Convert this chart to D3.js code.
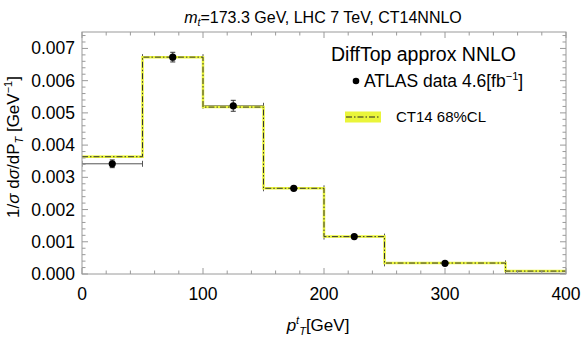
<!DOCTYPE html>
<html>
<head>
<meta charset="utf-8">
<script src="https://cdn.jsdelivr.net/npm/d3@7"></script>
<style>
  body { margin: 0; background: #fff; }
  text { font-family: "Liberation Sans", Arial, sans-serif; fill: #000; }
</style>
</head>
<body>
<svg id="chart"></svg>
<script>
// bins of the top pT distribution
const binEdges = [0, 50, 100, 150, 200, 250, 350, 800]
// CT14 NNLO central values and 68% CL band
const theory   = [0.00364, 0.00673, 0.00518, 0.00266, 0.00116, 0.00034, 0.00009]
const theoryLo = [0.00361, 0.00670, 0.00515, 0.00264, 0.00114, 0.00032, 0.00008]
const theoryHi = [0.00367, 0.00676, 0.00521, 0.00268, 0.00118, 0.00036, 0.00011]
// ATLAS 4.6 fb^-1 data
const dataX   = [25, 75, 125, 175, 225, 300, 575]
const dataY   = [0.00342, 0.00673, 0.00522, 0.00266, 0.00116, 0.00033, 0.00002]
const dataErr = [0.00012, 0.00015, 0.00017, 0.00006, 0.00004, 0.00002, 0.00001]
const xTicks = [0, 100, 200, 300, 400]
const yTicks = [0, 0.001, 0.002, 0.003, 0.004, 0.005, 0.006, 0.007]

const width = 581, height = 338
const margin = { top: 32, right: 15, bottom: 64, left: 82 }
const yellow = '#eaf53a'

const svg = d3.select('#chart').attr('width', width).attr('height', height)

const x = d3.scaleLinear().domain([0, 400]).range([margin.left, width - margin.right])
const y = d3.scaleLinear().domain([0, 0.00751]).range([height - margin.bottom, margin.top])

svg.append('clipPath').attr('id', 'clip')
  .append('rect')
  .attr('x', margin.left).attr('y', margin.top)
  .attr('width', x(400) - x(0)).attr('height', y(0) - y(0.00751))

const plot = svg.append('g').attr('clip-path', 'url(#clip)')

// step path helper
function steps(vals) {
  const pts = []
  vals.forEach((v, i) => {
    pts.push([x(binEdges[i]), y(v)])
    pts.push([x(binEdges[i + 1]), y(v)])
  })
  return d3.line()(pts)
}

// data horizontal bars (bin widths) drawn under theory
dataX.forEach((d, i) => {
  plot.append('line')
    .attr('x1', x(binEdges[i])).attr('x2', x(binEdges[i + 1]))
    .attr('y1', y(dataY[i])).attr('y2', y(dataY[i]))
    .attr('stroke', '#555').attr('stroke-width', 1)
  ;[binEdges[i], binEdges[i + 1]].forEach(e => {
    plot.append('line')
      .attr('x1', x(e)).attr('x2', x(e))
      .attr('y1', y(dataY[i]) - 3).attr('y2', y(dataY[i]) + 3)
      .attr('stroke', '#555').attr('stroke-width', 1)
  })
})

// theory band
const bandPts = []
theory.forEach((v, i) => {
  bandPts.push({ x: binEdges[i], lo: theoryLo[i], hi: theoryHi[i] })
  bandPts.push({ x: binEdges[i + 1], lo: theoryLo[i], hi: theoryHi[i] })
})
plot.append('path')
  .attr('d', steps(theory))
  .attr('fill', 'none')
  .attr('stroke', yellow)
  .attr('stroke-width', 2.5)
plot.append('path')
  .datum(bandPts)
  .attr('d', d3.area().x(d => x(d.x)).y0(d => y(d.lo)).y1(d => y(d.hi)))
  .attr('fill', yellow)
plot.append('path')
  .attr('d', steps(theory))
  .attr('fill', 'none')
  .attr('stroke', '#333')
  .attr('stroke-width', 1)
  .attr('stroke-dasharray', '6,2,1.5,2')

// data points with vertical errors
dataX.forEach((d, i) => {
  plot.append('line')
    .attr('x1', x(d)).attr('x2', x(d))
    .attr('y1', y(dataY[i] - dataErr[i])).attr('y2', y(dataY[i] + dataErr[i]))
    .attr('stroke', '#333').attr('stroke-width', 1)
  ;[-1, 1].forEach(s => {
    plot.append('line')
      .attr('x1', x(d) - 2.5).attr('x2', x(d) + 2.5)
      .attr('y1', y(dataY[i] + s * dataErr[i])).attr('y2', y(dataY[i] + s * dataErr[i]))
      .attr('stroke', '#333').attr('stroke-width', 1)
  })
  plot.append('circle')
    .attr('cx', x(d)).attr('cy', y(dataY[i])).attr('r', 3.6)
    .attr('fill', '#000')
})

// frame with ticks on all sides
const frame = '#9a9a9a'
const xMinor = d3.range(0, 401, 20)
const yMinor = d3.range(0, 0.00751, 0.0002)
const fg = svg.append('g')
fg.append('rect')
  .attr('x', x(0)).attr('y', y(0.00751))
  .attr('width', x(400) - x(0)).attr('height', y(0) - y(0.00751))
  .attr('fill', 'none').attr('stroke', frame).attr('stroke-width', 1)

xMinor.forEach(v => {
  const major = xTicks.includes(v)
  const len = major ? 6 : 3.5
  fg.append('line').attr('x1', x(v)).attr('x2', x(v))
    .attr('y1', y(0)).attr('y2', y(0) - len).attr('stroke', frame)
  fg.append('line').attr('x1', x(v)).attr('x2', x(v))
    .attr('y1', y(0.00751)).attr('y2', y(0.00751) + len).attr('stroke', frame)
})
yMinor.forEach((v, i) => {
  const major = i % 5 === 0
  const len = major ? 6 : 3.5
  fg.append('line').attr('y1', y(v)).attr('y2', y(v))
    .attr('x1', x(0)).attr('x2', x(0) + len).attr('stroke', frame)
  fg.append('line').attr('y1', y(v)).attr('y2', y(v))
    .attr('x1', x(400)).attr('x2', x(400) - len).attr('stroke', frame)
})

// tick labels
fg.selectAll('.xl').data(xTicks).join('text')
  .attr('x', d => x(d)).attr('y', y(0) + 26)
  .attr('text-anchor', 'middle').attr('font-size', 17.5)
  .text(d => d)
fg.selectAll('.yl').data(yTicks).join('text')
  .attr('x', x(0) - 7).attr('y', d => y(d) + 6)
  .attr('text-anchor', 'end').attr('font-size', 17.5)
  .text(d => d3.format('.3f')(d))

// title
const title = svg.append('text').attr('x', 323).attr('y', 23)
  .attr('text-anchor', 'middle').attr('font-size', 16)
title.append('tspan').attr('font-style', 'italic').text('m')
title.append('tspan').attr('font-style', 'italic').attr('font-size', 10.5).attr('dy', 3).text('t')
title.append('tspan').attr('dy', -3).text('=173.3 GeV, LHC 7 TeV, CT14NNLO')

// x label
const xl = svg.append('text').attr('x', 318).attr('y', 331)
  .attr('text-anchor', 'middle').attr('font-size', 17)
xl.append('tspan').attr('font-style', 'italic').text('p')
xl.append('tspan').attr('font-style', 'italic').attr('font-size', 11).attr('dy', -7).text('t')
xl.append('tspan').attr('font-style', 'italic').attr('font-size', 11).attr('dy', 11).text('T')
xl.append('tspan').attr('dy', -4).text('[GeV]')

// y label
const yl = svg.append('text')
  .attr('transform', 'translate(19, 147) rotate(-90)')
  .attr('text-anchor', 'middle').attr('font-size', 17)
yl.append('tspan').text('1/')
yl.append('tspan').attr('font-style', 'italic').text('σ')
yl.append('tspan').text(' d')
yl.append('tspan').attr('font-style', 'italic').text('σ')
yl.append('tspan').text('/dP')
yl.append('tspan').attr('font-style', 'italic').attr('font-size', 11).attr('dy', 4).text('T')
yl.append('tspan').attr('dy', -4).text(' [GeV')
yl.append('tspan').attr('font-size', 11).attr('dy', -7).text('−1')
yl.append('tspan').attr('dy', 7).text(']')

// legend
svg.append('text').attr('x', 331).attr('y', 61)
  .attr('font-size', 19.5)
  .text('DiffTop approx NNLO')
svg.append('circle').attr('cx', 356).attr('cy', 81).attr('r', 3.3).attr('fill', '#000')
const lt = svg.append('text').attr('x', 364).attr('y', 87).attr('font-size', 17.5)
lt.append('tspan').text('ATLAS data 4.6[fb')
lt.append('tspan').attr('font-size', 11).attr('dy', -7).text('−1')
lt.append('tspan').attr('dy', 7).text(']')
svg.append('rect').attr('x', 345).attr('y', 111.5).attr('width', 36).attr('height', 11)
  .attr('fill', yellow)
svg.append('line').attr('x1', 346).attr('x2', 380).attr('y1', 117).attr('y2', 117)
  .attr('stroke', '#222').attr('stroke-dasharray', '6,2,1.5,2')
svg.append('text').attr('x', 396).attr('y', 122).attr('font-size', 15)
  .text('CT14 68%CL')
</script>
</body>
</html>
